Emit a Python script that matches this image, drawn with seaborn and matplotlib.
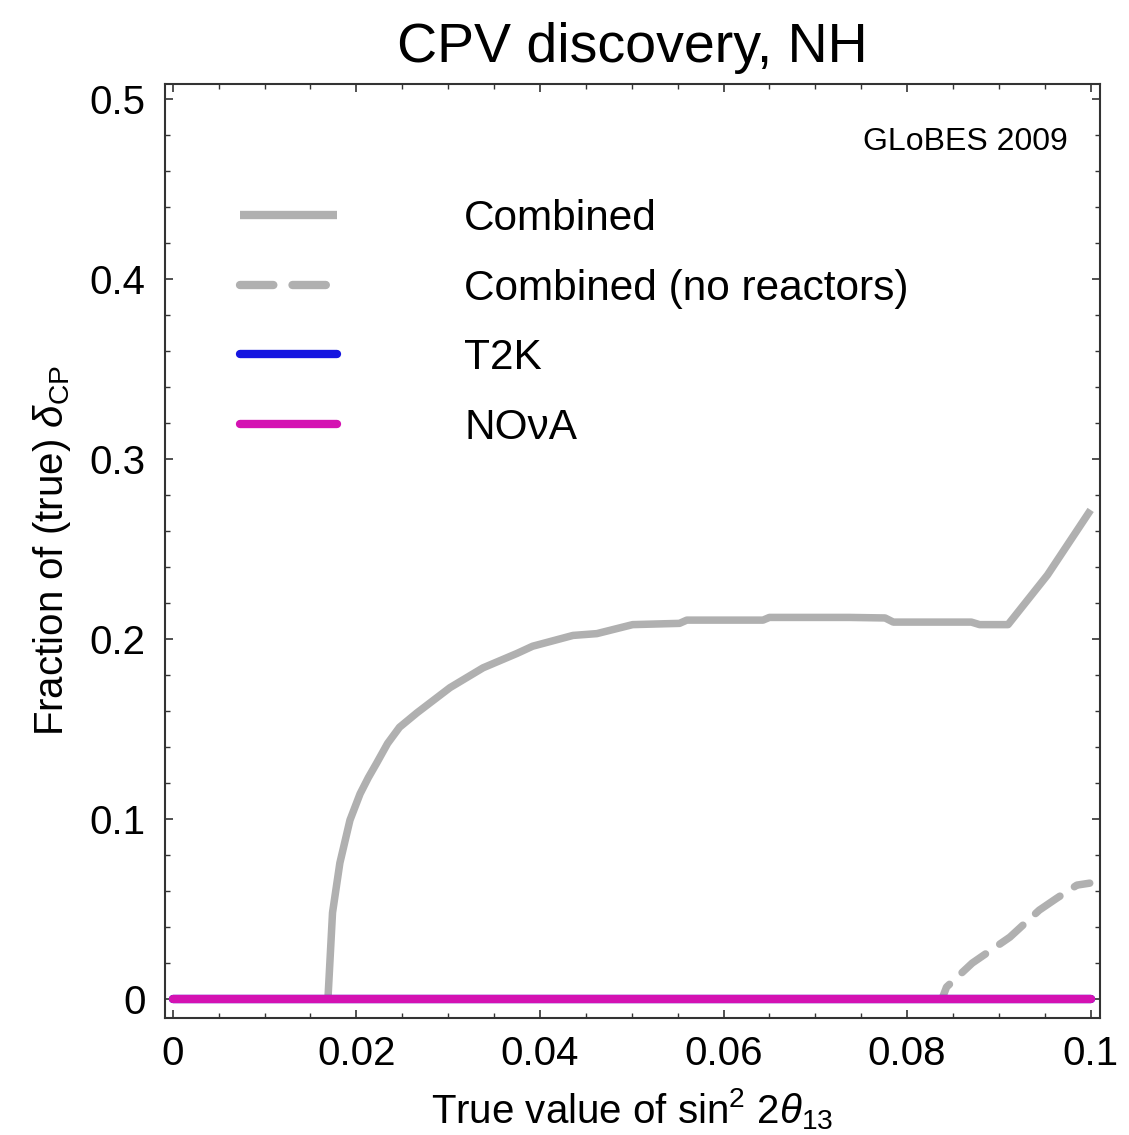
import numpy as np
import pandas as pd
import matplotlib
matplotlib.use("Agg")
import matplotlib.pyplot as plt
import seaborn as sns
from matplotlib.ticker import FixedLocator, FixedFormatter, MultipleLocator

# ---- data ----
comb_x = [0.0, 0.0169, 0.0174, 0.0182, 0.0193, 0.0204, 0.0213, 0.0222, 0.0234, 0.0247, 0.0266, 0.0284, 0.0302,
          0.0338, 0.0375, 0.0392, 0.0436, 0.0462, 0.0501, 0.0552, 0.0560, 0.0643, 0.0650,
          0.0737, 0.0776, 0.0785, 0.0870, 0.0879, 0.0910, 0.0953, 0.1000]
comb_y = [0.0, 0.0, 0.048, 0.0756, 0.0994, 0.114, 0.123, 0.131, 0.142, 0.151, 0.159, 0.166, 0.173,
          0.184, 0.192, 0.196, 0.202, 0.203, 0.208, 0.2087, 0.2105, 0.2105, 0.212,
          0.212, 0.2117, 0.2094, 0.2094, 0.208, 0.208, 0.2356, 0.2717]

norx_x = [0.0, 0.0838, 0.0843, 0.0871, 0.0912, 0.0944, 0.0963, 0.0985, 0.0999]
norx_y = [0.0, 0.0, 0.0067, 0.020, 0.0344, 0.0494, 0.056, 0.0633, 0.0644]

t2k_x = [0.0, 0.1]
t2k_y = [0.0, 0.0]
nova_x = [0.0, 0.1]
nova_y = [0.0, 0.0]

x_ticks = [0.0, 0.02, 0.04, 0.06, 0.08, 0.1]
x_ticklabels = ["0", "0.02", "0.04", "0.06", "0.08", "0.1"]
y_ticks = [0.0, 0.1, 0.2, 0.3, 0.4, 0.5]
y_ticklabels = ["0", "0.1", "0.2", "0.3", "0.4", "0.5"]

labels = ["Combined", "Combined (no reactors)", "T2K", "NO\u03bdA"]
colors = ["#b0b0b0", "#b0b0b0", "#1515e0", "#d412b2"]

# ---- style ----
sns.set_theme(style="ticks")
plt.rcParams["font.family"] = ["Liberation Sans", "DejaVu Sans"]
plt.rcParams["text.color"] = "black"
plt.rcParams["mathtext.fontset"] = "custom"
plt.rcParams["mathtext.rm"] = "Liberation Sans"
plt.rcParams["mathtext.it"] = "Liberation Sans:italic"
plt.rcParams["mathtext.bf"] = "Liberation Sans:bold"

fig = plt.figure(figsize=(11.29, 11.35), dpi=100)
ax = fig.add_axes([0.146, 0.103, 0.974 - 0.146, 0.926 - 0.103])

sns.lineplot(x=comb_x, y=comb_y, ax=ax, color=colors[0], lw=5.4, label=labels[0],
             estimator=None, sort=False, solid_capstyle="butt", solid_joinstyle="round")
sns.lineplot(x=norx_x, y=norx_y, ax=ax, color=colors[1], lw=5.4, label=labels[1],
             estimator=None, sort=False, linestyle=(0, (4.0, 2.3)), dash_capstyle="round")
sns.lineplot(x=t2k_x, y=t2k_y, ax=ax, color=colors[2], lw=6, label=labels[2],
             estimator=None, sort=False, solid_capstyle="round")
sns.lineplot(x=nova_x, y=nova_y, ax=ax, color=colors[3], lw=6, label=labels[3],
             estimator=None, sort=False, solid_capstyle="round")

ax.set_xlim(-0.00087, 0.10098)
ax.set_ylim(-0.01056, 0.5083)

ax.xaxis.set_major_locator(FixedLocator(x_ticks))
ax.xaxis.set_major_formatter(FixedFormatter(x_ticklabels))
ax.xaxis.set_minor_locator(MultipleLocator(0.005))
ax.yaxis.set_major_locator(FixedLocator(y_ticks))
ax.yaxis.set_major_formatter(FixedFormatter(y_ticklabels))
ax.yaxis.set_minor_locator(MultipleLocator(0.02))

for s in ax.spines.values():
    s.set_visible(True)
    s.set_linewidth(1.5)
    s.set_color("#333333")

ax.tick_params(which="both", direction="in", top=True, right=True, colors="#333333")
ax.tick_params(which="major", length=6, width=1.2)
ax.tick_params(which="minor", length=3.5, width=1.0)
ax.tick_params(axis="x", which="major", labelsize=29, pad=12, labelcolor="black")
ax.tick_params(axis="y", which="major", labelsize=29, pad=14, labelcolor="black")

ax.set_xlabel("True value of sin$^2$ 2$\\theta_{13}$", fontsize=29, labelpad=10, color="black")
ax.set_ylabel("Fraction of (true) $\\delta_{\\mathrm{CP}}$", fontsize=29, labelpad=12, color="black")
ax.set_title("CPV discovery, NH", fontsize=40, pad=16, color="black")

ax.text(0.966, 0.938, "GLoBES 2009", transform=ax.transAxes, ha="right", va="center",
        fontsize=23, color="black")

leg = ax.legend(loc="upper left", bbox_to_anchor=(0.080, 0.877), frameon=False,
                fontsize=30.5, handlelength=2.3, handletextpad=3.0, labelspacing=0.70,
                borderaxespad=0, borderpad=0)
for t in leg.get_texts():
    t.set_color("black")
for h in leg.get_lines():
    h.set_linewidth(6)

fig.savefig("out.png", dpi=100, facecolor="white")
